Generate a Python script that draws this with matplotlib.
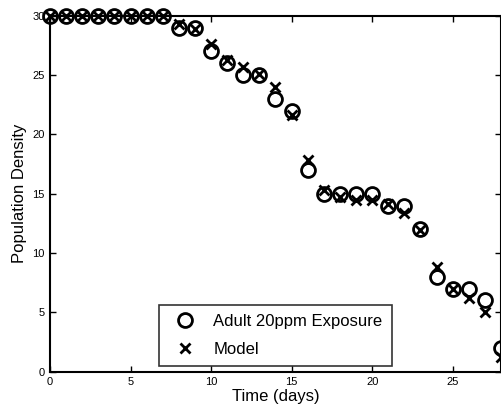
import matplotlib
matplotlib.use("Agg")
import matplotlib.pyplot as plt

plt.rcParams['font.family'] = ['Liberation Sans', 'DejaVu Sans']

days = list(range(0, 29))
observed = [30, 30, 30, 30, 30, 30, 30, 30, 29, 29, 27, 26, 25, 25, 23, 22,
            17, 15, 15, 15, 15, 14, 14, 12, 8, 7, 7, 6, 2]
model = [30, 30, 30, 30, 30, 30, 30, 30, 29.3, 28.9, 27.6, 26.3, 25.7, 25.1, 24.0, 21.6,
         17.8, 15.3, 14.7, 14.5, 14.5, 14.1, 13.4, 11.9, 8.8, 7.0, 6.2, 5.0, 1.2]

fig = plt.figure(figsize=(5.02, 4.12), dpi=100)
ax = fig.add_axes([0.0996, 0.098, 0.8984, 0.864])

ax.plot(days, observed, 'o', mfc='none', mec='black', ms=10, mew=2,
        label='Adult 20ppm Exposure', clip_on=False, zorder=3)
ax.plot(days, model, 'x', color='black', ms=7, mew=2,
        label='Model', clip_on=False, zorder=4)

ax.set_xlim(0, 28)
ax.set_ylim(0, 30)
ax.set_xticks([0, 5, 10, 15, 20, 25])
ax.set_yticks([0, 5, 10, 15, 20, 25, 30])
ax.tick_params(direction='in', top=True, right=True, labelsize=8, length=4, width=1, pad=4)
for s in ax.spines.values():
    s.set_linewidth(1.5)

ax.set_xlabel('Time (days)', fontsize=12, labelpad=1)
ax.set_ylabel('Population Density', fontsize=12, labelpad=4)

leg = ax.legend(loc='lower center', bbox_to_anchor=(0.5, 0.016), fontsize=12,
                frameon=True, fancybox=False, edgecolor='black', borderaxespad=0,
                borderpad=0.55, handletextpad=0.7, labelspacing=0.75)
leg.get_frame().set_linewidth(1.2)

fig.savefig('out.png', dpi=100)
